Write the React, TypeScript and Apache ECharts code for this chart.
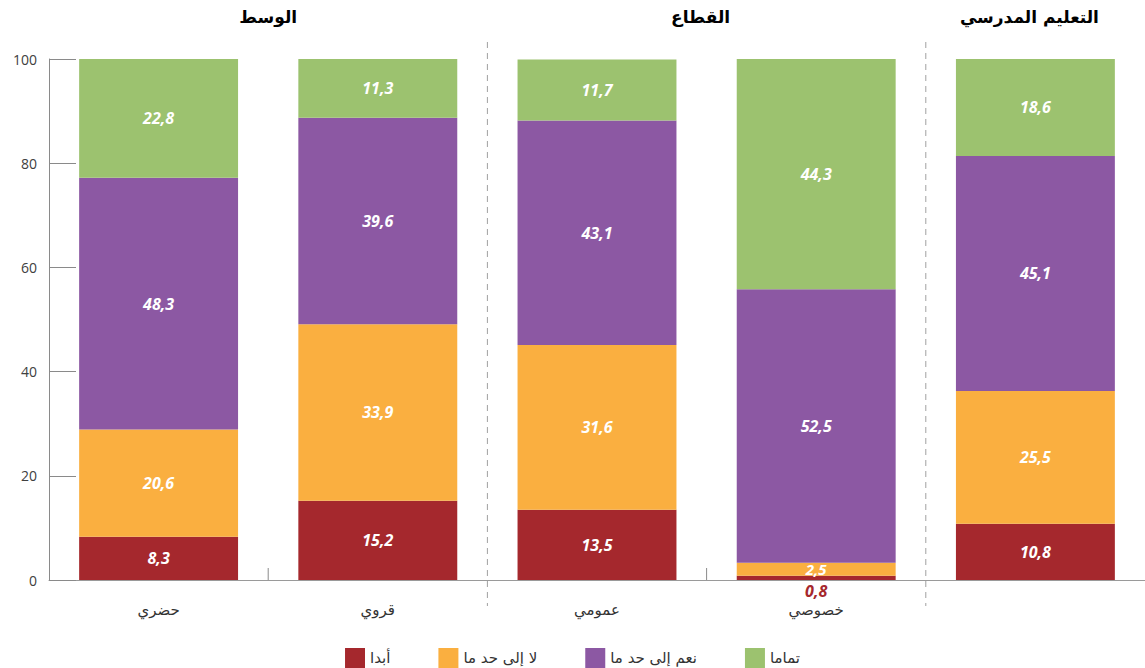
import React, { useEffect, useRef } from 'react';
import * as echarts from 'echarts';

const categories = ['حضري', 'قروي', 'عمومي', 'خصوصي', 'التعليم المدرسي'];
const groupTitles = ['الوسط', 'القطاع', 'التعليم المدرسي'];
const seriesNames = ['أبدا', 'لا إلى حد ما', 'نعم إلى حد ما', 'تماما'];
const never = [8.3, 15.2, 13.5, 0.8, 10.8];
const notReally = [20.6, 33.9, 31.6, 2.5, 25.5];
const somewhat = [48.3, 39.6, 43.1, 52.5, 45.1];
const fully = [22.8, 11.3, 11.7, 44.3, 18.6];
const colors = ['#A5282D', '#FAAF40', '#8C58A3', '#9CC26F'];

const fmt = (v: number) => String(v.toFixed(1)).replace('.', ',');

export default function App() {
  const ref = useRef<HTMLDivElement>(null);
  useEffect(() => {
    document.body.style.margin = '0';
    const chart = echarts.init(ref.current!, null, { renderer: 'svg' });
    const labelStyle = {
      show: true,
      position: 'inside',
      color: '#fff',
      fontSize: 16,
      fontWeight: 'bold',
      fontStyle: 'italic',
      fontFamily: "'Open Sans', 'DejaVu Sans', sans-serif",
      formatter: (p: any) => fmt(Number(p.value)),
    };
    const all = [never, notReally, somewhat, fully];
    const series = all.map((arr, si) => ({
      name: seriesNames[si],
      type: 'bar',
      stack: 'total',
      barWidth: '72.5%',
      itemStyle: { color: colors[si] },
      label: labelStyle,
      data: arr.map((v) =>
        si === 0 && v < 2
          ? { value: v, label: { position: 'bottom', distance: 3, color: colors[0] } }
          : si === 1 && v < 5
          ? { value: v, label: { fontSize: 15, lineHeight: 14 } }
          : v
      ),
    }));
    chart.setOption({
      animation: false,
      grid: { left: 49, right: 0, top: 59, bottom: 88, containLabel: false },
      legend: {
        top: 643,
        left: 'center',
        itemWidth: 20,
        itemHeight: 20,
        itemGap: 48,
        icon: 'rect',
        data: seriesNames,
        textStyle: { fontSize: 15, color: '#333', fontFamily: "'DejaVu Sans', sans-serif" },
      },
      xAxis: {
        type: 'category',
        data: categories,
        axisLine: { show: true, lineStyle: { color: '#9a9a9a', width: 1 } },
        axisTick: { show: false },
        axisLabel: {
          margin: 22,
          fontSize: 15,
          color: '#333',
          fontFamily: "'DejaVu Sans', sans-serif",
          formatter: (v: string, i: number) => (i === categories.length - 1 ? '' : v),
        },
      },
      yAxis: {
        type: 'value',
        min: 0,
        max: 100,
        interval: 20,
        axisLine: { show: true, lineStyle: { color: '#8a8a8a' } },
        axisTick: { show: true, inside: true, length: 27, lineStyle: { color: '#8a8a8a' } },
        splitLine: { show: false },
        axisLabel: { margin: 12, fontSize: 14, color: '#404040', fontFamily: "'Open Sans', sans-serif" },
      },
      series,
    });

    const centers = categories.map((c) => chart.convertToPixel({ xAxisIndex: 0 }, c) as number);
    const band = centers[1] - centers[0];
    const boundary = (i: number) => centers[i] - band / 2;
    const y0 = chart.convertToPixel({ yAxisIndex: 0 }, 0) as number;
    const graphics: any[] = [];
    [2, 4].forEach((i) => {
      graphics.push({
        type: 'line',
        shape: { x1: boundary(i), y1: 42, x2: boundary(i), y2: 606 },
        style: { stroke: '#a0a0a0', lineWidth: 1, lineDash: [6, 5] },
      });
    });
    [1, 3].forEach((i) => {
      graphics.push({
        type: 'line',
        shape: { x1: boundary(i), y1: y0 - 12, x2: boundary(i), y2: y0 },
        style: { stroke: '#8a8a8a', lineWidth: 1 },
      });
    });
    const titleX = [boundary(1), boundary(3) - 6, centers[4] - 6];
    groupTitles.forEach((t, i) => {
      graphics.push({
        type: 'text',
        x: titleX[i],
        y: 17,
        style: {
          text: t,
          align: 'center',
          verticalAlign: 'middle',
          fontSize: 17,
          fontWeight: 'bold',
          fill: '#000',
          fontFamily: "'DejaVu Sans', sans-serif",
        },
      });
    });
    chart.setOption({ graphic: graphics });
    return () => chart.dispose();
  }, []);
  return <div ref={ref} style={{ width: 1145, height: 668 }} />;
}
